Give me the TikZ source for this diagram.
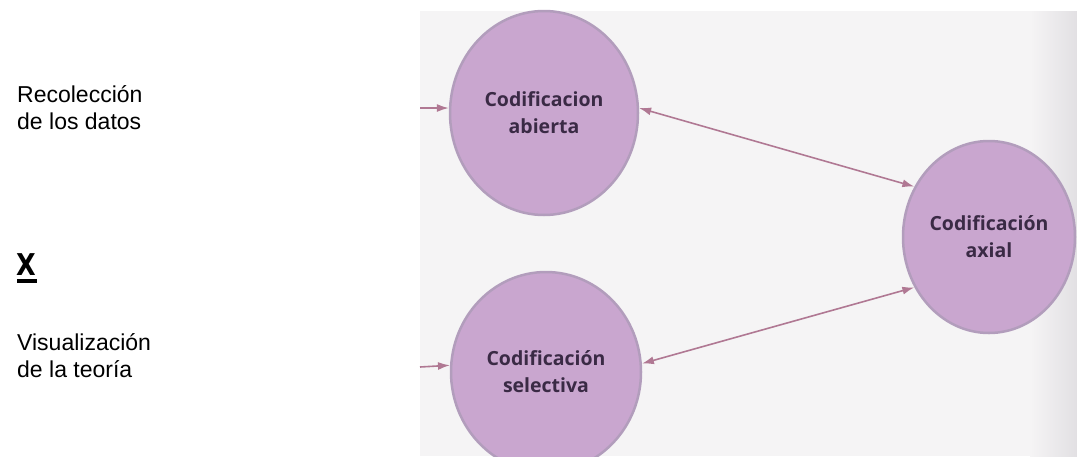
\documentclass[tikz,border=0pt]{standalone}
\usepackage{fontspec}
\usepackage{graphicx}
\setmainfont{Liberation Sans}
\newfontfamily\circfont{Open Sans}
\newfontfamily\xfont{DejaVu Sans}
\usetikzlibrary{shapes.geometric,arrows.meta}
\definecolor{scanbg}{HTML}{F5F4F5}
\definecolor{scanedge}{HTML}{E2E0E3}
\definecolor{circfill}{HTML}{C9A6CF}
\definecolor{circrim}{HTML}{B29DBC}
\definecolor{circtext}{HTML}{3A2A45}
\definecolor{arrowcol}{HTML}{B07893}
\tikzset{
  x=1pt, y=-1pt,
  lefttext/.style={anchor=base west, inner sep=0pt, align=left, text=black,
    font=\fontsize{23}{27.5}\selectfont},
  codnode/.style={ellipse, fill=circfill, draw=circrim, line width=2.5pt,
    inner sep=0pt, text=circtext, align=center,
    font=\circfont\bfseries\fontsize{19.5}{27}\selectfont},
  link/.style={draw=arrowcol, line width=1.6pt,
    {Latex[length=12pt,width=8pt]}-{Latex[length=12pt,width=8pt]}},
  inlink/.style={draw=arrowcol, line width=1.6pt, -{Latex[length=12pt,width=8pt]}}
}
\begin{document}
\begin{tikzpicture}
\useasboundingbox (0,0) rectangle (1077,456);
\fill[white] (0,0) rectangle (1077,456);
% scanned page background
\fill[scanbg] (420,11) rectangle (1077,456);
\shade[left color=scanbg, right color=scanedge] (1030,11) rectangle (1077,456);

% left labels
\node[lefttext] (rec) at (17,129.5) {Recolección\\de los datos};
\node[anchor=base west, inner sep=0pt, font=\xfont\bfseries\fontsize{30}{30}\selectfont] (x) at (16,275) {\scalebox{0.85}[1]{X}};
\fill[black] (17,279) rectangle (37,283);
\node[lefttext] (vis) at (17,377.5) {Visualización\\de la teoría};

% circles
\node[codnode, minimum width=188pt, minimum height=204pt] (ab) at (544,113) {Codificacion\\abierta};
\node[codnode, minimum width=190pt, minimum height=200pt] (sel) at (546,372) {Codificación\\selectiva};
\node[codnode, minimum width=172pt, minimum height=192pt] (ax) at (989,237) {Codificación\\axial};

% incoming arrows
\coordinate (inab) at (420,108);
\coordinate (insel) at (420,367);
\draw[inlink] (inab) -- (ab.177);
\draw[inlink] (insel) -- (sel.176);

% double arrows
\draw[link] (ab.3) -- (ax.146);
\draw[link] (sel.5) -- (ax.214);
\end{tikzpicture}
\end{document}
